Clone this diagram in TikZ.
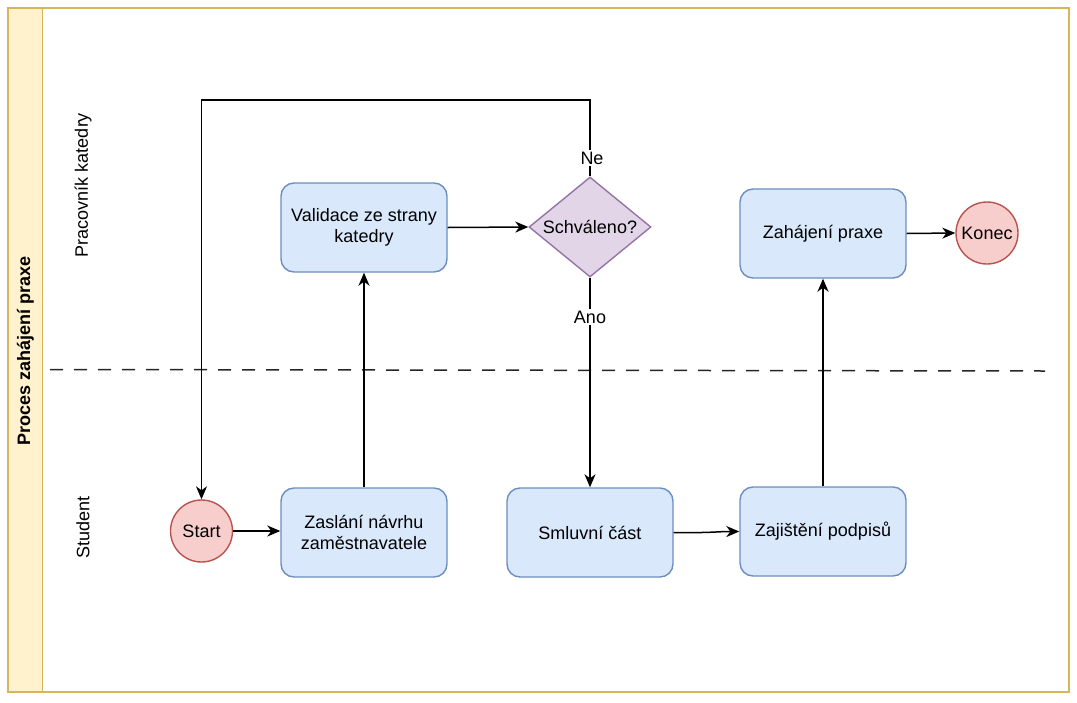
\documentclass[tikz,border=0pt]{standalone}
\usepackage{fontspec}
\setmainfont{Liberation Sans}
\usetikzlibrary{arrows.meta,shapes.geometric}
\definecolor{boxfill}{HTML}{DAE8FC}
\definecolor{boxline}{HTML}{6C8EBF}
\definecolor{decfill}{HTML}{E1D5E7}
\definecolor{decline}{HTML}{9673A6}
\definecolor{circfill}{HTML}{F8CECC}
\definecolor{circline}{HTML}{B85450}
\definecolor{poolfill}{HTML}{FFF2CC}
\definecolor{poolline}{HTML}{D6B656}
\tikzset{
  txt/.style={font=\fontsize{18}{21.5}\selectfont, text=black},
  procbox/.style={txt, draw=boxline, fill=boxfill, line width=1.4pt, rounded corners=13pt,
    minimum width=166pt, minimum height=89pt, align=center, inner sep=0pt},
  decbox/.style={txt, draw=decline, fill=decfill, line width=1.4pt, diamond, aspect=1.22,
    minimum width=122pt, minimum height=100pt, inner sep=0pt},
  evt/.style={txt, draw=circline, fill=circfill, line width=1.4pt, circle, minimum size=62pt, inner sep=0pt},
  conn/.style={line width=1.5pt, -{Stealth[length=13pt,width=11pt,inset=4pt]}},
  lbl/.style={txt, fill=white, inner sep=1.5pt},
}
\begin{document}
\begin{tikzpicture}[x=1pt,y=-1pt]
\useasboundingbox (0,0) rectangle (1077,702);
% pool
\draw[draw=poolline, line width=1.3pt] (8,8) rectangle (1069,692);
\path[fill=poolfill, draw=poolline, line width=1.3pt] (8,8) rectangle (42.5,692);
\node[txt, font=\fontsize{18}{21.5}\selectfont\bfseries, rotate=90] (title) at (25.5,351) {Proces zahájení praxe};
% lanes
\node[txt, rotate=90] (lane1) at (83,185) {Pracovník katedry};
\node[txt, rotate=90] (lane2) at (83,527.5) {Student};
\coordinate (dl) at (50,369.5);
\coordinate (dr) at (1045,371);
\draw[line width=1.5pt, draw=black!85, dash pattern=on 13pt off 11pt] (dl) -- (dr);
% nodes
\node[procbox] (val) at (364,227.5) {Validace ze strany\\katedry};
\node[decbox] (dec) at (590,227) {Schváleno?};
\node[procbox] (zah) at (823,233.5) {Zahájení praxe};
\node[evt] (konec) at (987,233) {Konec};
\node[evt] (start) at (201.5,531) {Start};
\node[procbox] (zas) at (364,532.5) {Zaslání návrhu\\zaměstnavatele};
\node[procbox] (sml) at (590,532.5) {Smluvní část};
\node[procbox] (zaj) at (823,531.5) {Zajištění podpisů};
% edges
\draw[conn] (start.east) -- (zas.west |- start.east);
\draw[conn] (zas.north) -- (val.south);
\draw[conn] (val.east) -- (dec.west);
\coordinate (ne1) at (590,100);
\coordinate (ne2) at (201.5,100);
\draw[conn] (dec.north) -- (ne1) -- (ne2) -- (start.north);
\node[lbl] (nelbl) at (592,158) {Ne};
\draw[conn] (dec.south) -- (sml.north);
\node[lbl] (anolbl) at (590,317) {Ano};
\draw[conn] (sml.east) .. controls (715,533) and (715,531.5) .. (zaj.west);
\draw[conn] (zaj.north) -- (zah.south);
\draw[conn] (zah.east) -- (konec.west);
\end{tikzpicture}
\end{document}
